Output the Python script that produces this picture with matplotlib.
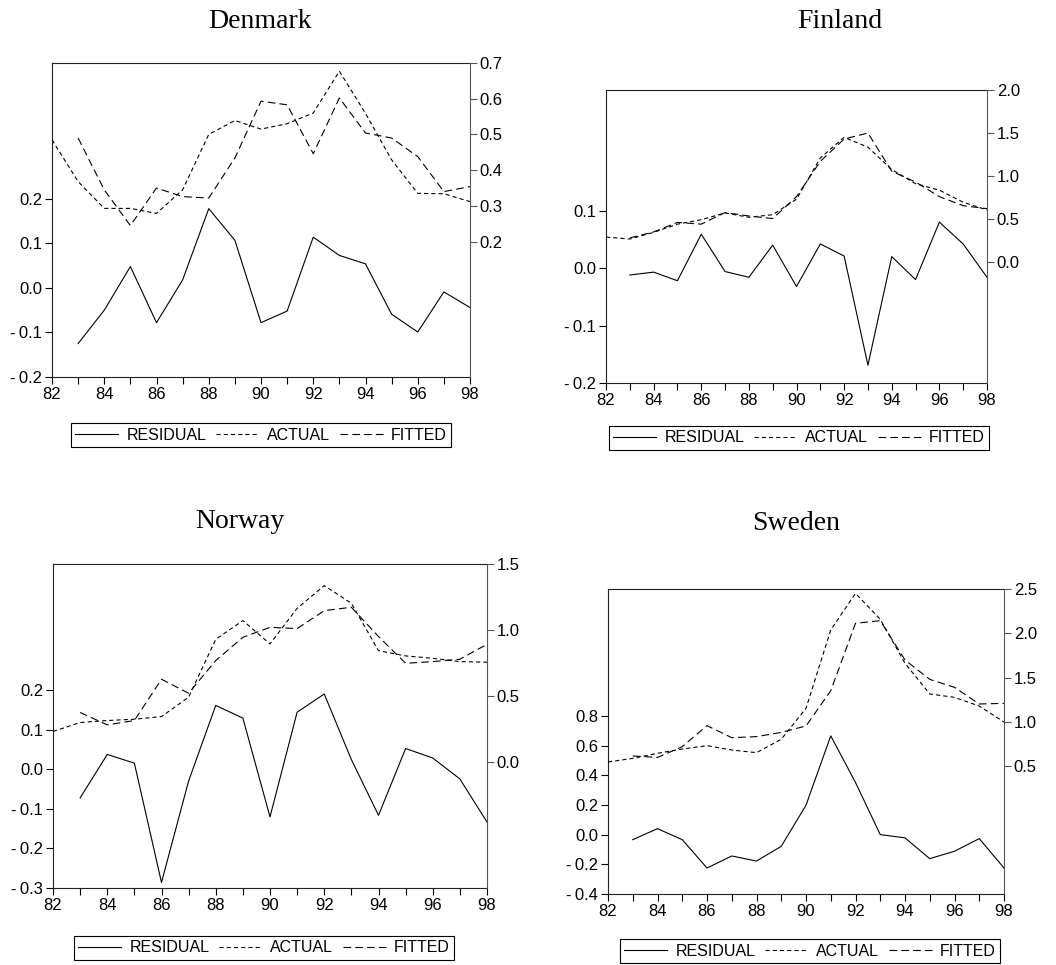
import matplotlib

matplotlib.use("Agg")
import matplotlib.pyplot as plt
from matplotlib.lines import Line2D

plt.rcParams["font.family"] = ["Liberation Sans", "DejaVu Sans"]
plt.rcParams["lines.scale_dashes"] = False

YEARS = list(range(82, 99))
FIT_YEARS = list(range(83, 99))
YEAR_LABELS = ["82", "", "84", "", "86", "", "88", "", "90", "", "92", "", "94", "", "96", "", "98"]

# values
DK_ACTUAL = [0.485, 0.368, 0.293, 0.293, 0.279, 0.345, 0.500, 0.539, 0.515,
             0.530, 0.560, 0.677, 0.559, 0.429, 0.335, 0.334, 0.312]
DK_FITTED = [0.490, 0.345, 0.245, 0.350, 0.326, 0.322, 0.434, 0.593,
             0.583, 0.446, 0.602, 0.504, 0.490, 0.438, 0.340, 0.354]
DK_RESID = [-0.125, -0.050, 0.048, -0.078, 0.018, 0.178, 0.107, -0.078,
            -0.052, 0.114, 0.073, 0.054, -0.059, -0.099, -0.009, -0.044]

FI_ACTUAL = [0.290, 0.267, 0.345, 0.440, 0.492, 0.570, 0.520, 0.550, 0.730,
             1.210, 1.450, 1.335, 1.075, 0.910, 0.835, 0.695, 0.605]
FI_FITTED = [0.280, 0.350, 0.460, 0.440, 0.575, 0.535, 0.505, 0.760,
             1.170, 1.430, 1.500, 1.055, 0.930, 0.760, 0.655, 0.620]
FI_RESID = [-0.012, -0.007, -0.022, 0.059, -0.006, -0.016, 0.040, -0.032,
            0.042, 0.021, -0.169, 0.020, -0.020, 0.080, 0.042, -0.016]

NO_ACTUAL = [0.230, 0.298, 0.313, 0.323, 0.343, 0.490, 0.929, 1.071, 0.894,
             1.164, 1.336, 1.202, 0.843, 0.803, 0.785, 0.760, 0.755]
NO_FITTED = [0.374, 0.280, 0.313, 0.626, 0.520, 0.768, 0.944, 1.020,
             1.010, 1.146, 1.172, 0.950, 0.747, 0.760, 0.778, 0.891]
NO_RESID = [-0.072, 0.038, 0.016, -0.286, -0.029, 0.162, 0.130, -0.120,
            0.145, 0.191, 0.025, -0.116, 0.053, 0.029, -0.024, -0.133]

SE_ACTUAL = [0.549, 0.590, 0.647, 0.695, 0.733, 0.684, 0.654, 0.805, 1.154,
             2.038, 2.451, 2.158, 1.662, 1.316, 1.278, 1.180, 1.000]
SE_FITTED = [0.617, 0.600, 0.722, 0.959, 0.823, 0.835, 0.883, 0.955,
             1.353, 2.113, 2.143, 1.699, 1.481, 1.391, 1.203, 1.210]
SE_RESID = [-0.034, 0.040, -0.034, -0.225, -0.144, -0.178, -0.079, 0.198,
            0.665, 0.351, 0.000, -0.022, -0.162, -0.112, -0.027, -0.225]

# layout in pixels of a 1056x965 canvas: axes box, title centre, legend centre
PANELS = [
    dict(name="Denmark", actual=DK_ACTUAL, fitted=DK_FITTED, resid=DK_RESID,
         box=(52, 63, 470, 377), title=(260, 21), legend=(261, 435),
         left_lim=(-0.2, 0.505), left_ticks=[-0.2, -0.1, 0.0, 0.1, 0.2],
         right_lim=(-0.179, 0.7), right_ticks=[0.2, 0.3, 0.4, 0.5, 0.6, 0.7]),
    dict(name="Finland", actual=FI_ACTUAL, fitted=FI_FITTED, resid=FI_RESID,
         box=(606, 90, 987, 383), title=(840, 21), legend=(799, 438),
         left_lim=(-0.2, 0.31), left_ticks=[-0.2, -0.1, 0.0, 0.1],
         right_lim=(-1.407, 2.0), right_ticks=[0.0, 0.5, 1.0, 1.5, 2.0]),
    dict(name="Norway", actual=NO_ACTUAL, fitted=NO_FITTED, resid=NO_RESID,
         box=(53, 564, 487, 888), title=(240, 521), legend=(264, 948),
         left_lim=(-0.3, 0.52), left_ticks=[-0.3, -0.2, -0.1, 0.0, 0.1, 0.2],
         right_lim=(-0.957, 1.5), right_ticks=[0.0, 0.5, 1.0, 1.5]),
    dict(name="Sweden", actual=SE_ACTUAL, fitted=SE_FITTED, resid=SE_RESID,
         box=(608, 589, 1004, 894), title=(796, 523), legend=(810, 951),
         left_lim=(-0.4, 1.654), left_ticks=[-0.4, -0.2, 0.0, 0.2, 0.4, 0.6, 0.8],
         right_lim=(-0.94, 2.5), right_ticks=[0.5, 1.0, 1.5, 2.0, 2.5]),
]

W, H = 1056, 965
ACTUAL_DASH = (3.0, 2.2)
FITTED_DASH = (5.5, 3.0)
LW = 0.8
TICK_SIZE = 12


def fmt(v):
    s = f"{abs(v):.1f}"
    return "-\u2009" + s if v < 0 else s


def draw_panel(fig, p):
    x0, y0, x1, y1 = p["box"]
    ax = fig.add_axes([x0 / W, 1 - y1 / H, (x1 - x0) / W, (y1 - y0) / H])
    ax2 = ax.twinx()

    ax.plot(FIT_YEARS, p["resid"], color="black", lw=LW)
    ax2.plot(YEARS, p["actual"], color="black", lw=LW, dashes=ACTUAL_DASH)
    ax2.plot(FIT_YEARS, p["fitted"], color="black", lw=LW, dashes=FITTED_DASH)

    ax.set_xlim(82, 98)
    ax.set_xticks(YEARS)
    ax.set_xticklabels(YEAR_LABELS, fontsize=TICK_SIZE)
    ax.set_ylim(*p["left_lim"])
    ax.set_yticks(p["left_ticks"])
    ax.set_yticklabels([fmt(v) for v in p["left_ticks"]], fontsize=TICK_SIZE)
    ax2.set_ylim(*p["right_lim"])
    ax2.set_yticks(p["right_ticks"])
    ax2.set_yticklabels([fmt(v) for v in p["right_ticks"]], fontsize=TICK_SIZE)

    ax.tick_params(direction="out", length=5, width=0.8, pad=2, colors="black")
    ax2.tick_params(direction="out", length=5, width=0.8, pad=2, color="#555555",
                    labelcolor="black")
    for side in ("left", "top", "bottom"):
        ax.spines[side].set_color("#222222")
        ax.spines[side].set_linewidth(0.8)
        ax2.spines[side].set_visible(False)
    ax.spines["right"].set_visible(False)
    ax2.spines["right"].set_color("#555555")
    ax2.spines["right"].set_linewidth(0.8)

    tx, ty = p["title"]
    fig.text(tx / W, 1 - ty / H, p["name"], ha="center", va="center",
             family=["Liberation Serif", "DejaVu Serif"], fontsize=20)

    handles = [
        Line2D([], [], color="black", lw=LW),
        Line2D([], [], color="black", lw=LW, dashes=ACTUAL_DASH),
        Line2D([], [], color="black", lw=LW, dashes=FITTED_DASH),
    ]
    lx, ly = p["legend"]
    leg = fig.legend(handles, ["RESIDUAL", "ACTUAL", "FITTED"], loc="center",
                     bbox_to_anchor=(lx / W, 1 - ly / H), ncol=3, fontsize=11.5,
                     frameon=True, fancybox=False, edgecolor="black",
                     framealpha=1, handlelength=2.7, handletextpad=0.5,
                     columnspacing=0.6, borderpad=0.3, borderaxespad=0)
    leg.get_frame().set_linewidth(0.8)


fig = plt.figure(figsize=(W / 100, H / 100), dpi=100)
for p in PANELS:
    draw_panel(fig, p)
fig.savefig("out.png", dpi=100)
